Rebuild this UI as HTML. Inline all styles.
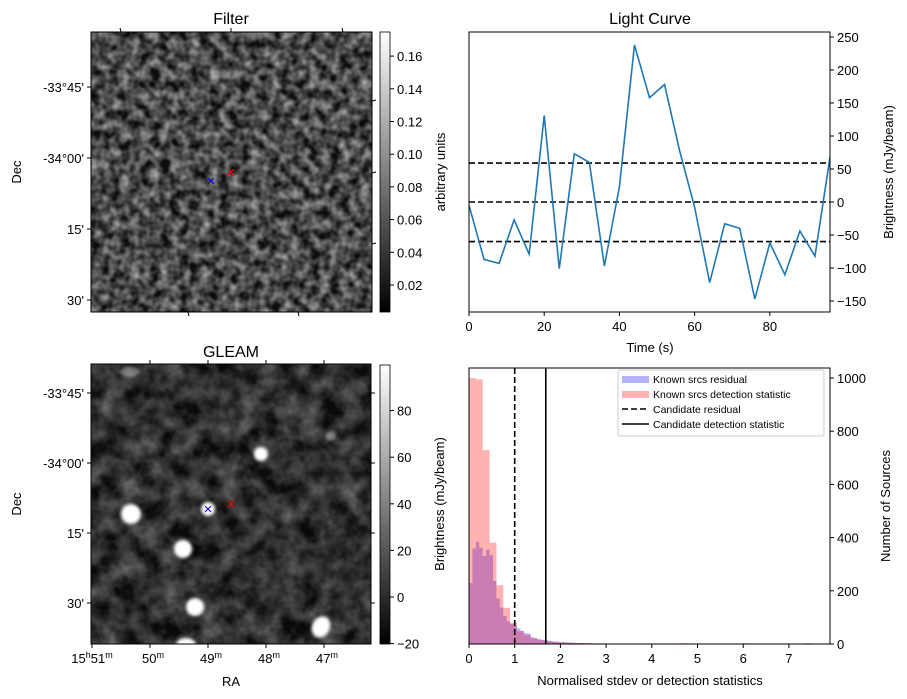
<!DOCTYPE html>
<html><head><meta charset="utf-8"><style>
body{margin:0;background:#fff;}
svg{display:block;font-family:"Liberation Sans","DejaVu Sans",sans-serif;}
</style></head><body>
<svg id="fig" width="907" height="699" viewBox="0 0 907 699" xmlns="http://www.w3.org/2000/svg">
<defs>
<filter id="noiseF" x="0" y="0" width="100%" height="100%" color-interpolation-filters="sRGB">
<feTurbulence type="fractalNoise" baseFrequency="0.1" numOctaves="2" seed="3"/>
<feColorMatrix type="matrix" values="0 0 0 0 0  0 0 0 0 0  0 0 0 0 0  1.6 0 0 0 -0.4"/>
<feColorMatrix type="matrix" values="0 0 0 0.6 0.05  0 0 0 0.6 0.05  0 0 0 0.6 0.05  0 0 0 0 1"/>
</filter>
<filter id="noiseG" x="0" y="0" width="100%" height="100%" color-interpolation-filters="sRGB">
<feTurbulence type="fractalNoise" baseFrequency="0.05" numOctaves="3" seed="7"/>
<feColorMatrix type="matrix" values="0 0 0 0 0  0 0 0 0 0  0 0 0 0 0  1.4 0 0 0 -0.35"/>
<feColorMatrix type="matrix" values="0 0 0 0.42 0.04  0 0 0 0.42 0.04  0 0 0 0.42 0.04  0 0 0 0 1"/>
</filter>
<filter id="blur"><feGaussianBlur stdDeviation="1.5"/></filter>
<linearGradient id="gray" x1="0" y1="1" x2="0" y2="0"><stop offset="0" stop-color="#000"/><stop offset="1" stop-color="#fff"/></linearGradient>
<clipPath id="clipG"><rect x="91" y="364" width="280" height="280"/></clipPath>
<clipPath id="clipL"><rect x="469" y="32" width="361" height="280"/></clipPath>
<clipPath id="clipH"><rect x="469" y="368" width="361" height="276"/></clipPath>
</defs>

<g>
<rect x="91" y="32" width="281" height="280" filter="url(#noiseF)"/>
<rect x="91" y="32" width="281" height="280" fill="none" stroke="#000" stroke-width="1"/>
<text x="231" y="24" font-size="16" text-anchor="middle">Filter</text>
<g font-size="13" text-anchor="end">
<line x1="87" y1="87" x2="91" y2="87" stroke="#000"/><text x="84" y="92">-33°45'</text>
<line x1="87" y1="158" x2="91" y2="158" stroke="#000"/><text x="84" y="163">-34°00'</text>
<line x1="87" y1="229" x2="91" y2="229" stroke="#000"/><text x="84" y="234">15'</text>
<line x1="87" y1="300" x2="91" y2="300" stroke="#000"/><text x="84" y="305">30'</text>
</g>
<g stroke="#000">
<line x1="120" y1="28" x2="121" y2="32"/><line x1="231" y1="28" x2="231" y2="32"/><line x1="342" y1="28" x2="343" y2="32"/>
<line x1="188" y1="312" x2="189" y2="316"/><line x1="298" y1="312" x2="299" y2="316"/>
<line x1="372" y1="101" x2="376" y2="100"/><line x1="372" y1="173" x2="376" y2="172"/><line x1="372" y1="244" x2="376" y2="243"/>
</g>
<text transform="translate(21,172) rotate(-90)" font-size="13" text-anchor="middle">Dec</text>
<text x="211" y="186" font-size="15" fill="#00f" text-anchor="middle">×</text>
<text x="231" y="177" font-size="15" fill="#f00" text-anchor="middle">×</text>
<rect x="380" y="32" width="10" height="280" fill="url(#gray)" stroke="#000" stroke-width="0.8"/>
<g id="cbF" font-size="13"></g>
<text transform="translate(445,172) rotate(-90)" font-size="13" text-anchor="middle">arbitrary units</text>
</g>

<g>
<rect x="91" y="364" width="280" height="280" filter="url(#noiseG)"/>
<g clip-path="url(#clipG)" fill="#fff" filter="url(#blur)">
<ellipse cx="131" cy="514" rx="10" ry="10"/>
<ellipse cx="183" cy="549" rx="9" ry="9"/>
<ellipse cx="195" cy="607" rx="9" ry="9"/>
<ellipse cx="186" cy="645" rx="10" ry="7"/>
<ellipse cx="261" cy="454" rx="7" ry="7"/>
<ellipse cx="208" cy="509" rx="7" ry="7"/>
<ellipse cx="321" cy="627" rx="9" ry="11" transform="rotate(25 321 627)"/>
<ellipse cx="130" cy="372" rx="10" ry="5" opacity="0.4"/>
<ellipse cx="331" cy="436" rx="5" ry="5" opacity="0.4"/>
</g>
<rect x="91" y="364" width="280" height="280" fill="none" stroke="#000"/>
<text x="231" y="357" font-size="16" text-anchor="middle">GLEAM</text>
<g font-size="13" text-anchor="end">
<line x1="87" y1="393" x2="91" y2="393" stroke="#000"/><text x="84" y="398">-33°45'</text>
<line x1="87" y1="463" x2="91" y2="463" stroke="#000"/><text x="84" y="468">-34°00'</text>
<line x1="87" y1="533" x2="91" y2="533" stroke="#000"/><text x="84" y="538">15'</text>
<line x1="87" y1="603" x2="91" y2="603" stroke="#000"/><text x="84" y="608">30'</text>
</g>
<g stroke="#000">
<line x1="150" y1="360" x2="150" y2="364"/><line x1="208" y1="360" x2="208" y2="364"/><line x1="266" y1="360" x2="266" y2="364"/><line x1="324" y1="360" x2="324" y2="364"/>
<line x1="371" y1="393" x2="375" y2="393"/><line x1="371" y1="463" x2="375" y2="463"/><line x1="371" y1="533" x2="375" y2="533"/><line x1="371" y1="603" x2="375" y2="603"/>
<line x1="92" y1="644" x2="92" y2="648"/><line x1="150" y1="644" x2="150" y2="648"/><line x1="208" y1="644" x2="208" y2="648"/><line x1="266" y1="644" x2="266" y2="648"/><line x1="324" y1="644" x2="324" y2="648"/>
</g>
<g font-size="13" text-anchor="middle">
<text x="92" y="663">15<tspan font-size="9" dy="-5">h</tspan><tspan dy="5">51</tspan><tspan font-size="9" dy="-5">m</tspan></text>
<text x="153" y="663">50<tspan font-size="9" dy="-5">m</tspan></text>
<text x="211" y="663">49<tspan font-size="9" dy="-5">m</tspan></text>
<text x="269" y="663">48<tspan font-size="9" dy="-5">m</tspan></text>
<text x="327" y="663">47<tspan font-size="9" dy="-5">m</tspan></text>
</g>
<text x="231" y="686" font-size="13" text-anchor="middle">RA</text>
<text transform="translate(21,504) rotate(-90)" font-size="13" text-anchor="middle">Dec</text>
<text x="208" y="514" font-size="15" fill="#00f" text-anchor="middle">×</text>
<text x="231" y="509" font-size="15" fill="#f00" text-anchor="middle">×</text>
<rect x="380" y="365" width="10" height="279" fill="url(#gray)" stroke="#000" stroke-width="0.8"/>
<g id="cbG" font-size="13"></g>
<text transform="translate(444,504) rotate(-90)" font-size="13" text-anchor="middle">Brightness (mJy/beam)</text>
</g>

<g id="lc">
<text x="650" y="24" font-size="16" text-anchor="middle">Light Curve</text>
<text x="650" y="352" font-size="13" text-anchor="middle">Time (s)</text>
<text transform="translate(893,172) rotate(-90)" font-size="13" text-anchor="middle">Brightness (mJy/beam)</text>
</g>

<g id="hist">
<text x="650" y="685" font-size="13" text-anchor="middle">Normalised stdev or detection statistics</text>
<text transform="translate(890,506) rotate(-90)" font-size="13" text-anchor="middle">Number of Sources</text>
</g>
</svg>
<script>
const lcTimes = [0,4,8,12,16,20,24,28,32,36,40,44,48,52,56,60,64,68,72,76,80,84,88,92,96];
const lcValues = [-5,-87,-93,-27,-79,131,-101,73,60,-97,23,238,158,178,78,-8,-122,-33,-40,-147,-62,-110,-44,-82,68];
const lcThresholds = [59,0,-60];
const lcXTicks = [0,20,40,60,80];
const lcYTicks = [-150,-100,-50,0,50,100,150,200,250];
const resBinWidth = 0.075;
const resCounts = [229,359,384,362,331,354,334,237,171,137,106,85,75,69,59,50,41,39,25,21,19,16,15,12,10,9,8,7,6,5,5,4,4,3,3,3,2,2,2,2,1,1,1,2,1,1,1,1,1];
const detBinWidth = 0.15;
const detCounts = [1000,995,729,381,221,136,80,48,33,22,15,11,8,6,5,4,4,3,2,2,2,1,1,1,1,1,1,0,0,0,0,3,0,0,0,0,0,0,0,0,3,0,0,0,0,0,0,0,0,3];
const candResidual = 1.0;
const candDetection = 1.68;
const histXTicks = [0,1,2,3,4,5,6,7];
const histYTicks = [0,200,400,600,800,1000];
const cbFTicks = [0.02,0.04,0.06,0.08,0.10,0.12,0.14,0.16];
const cbGTicks = [-20,0,20,40,60,80];

const NS='http://www.w3.org/2000/svg';
function mk(tag,attrs,parent){const e=document.createElementNS(NS,tag);for(const k in attrs)e.setAttribute(k,attrs[k]);parent.appendChild(e);return e;}

const cbF=document.getElementById('cbF');
const cfy=v=>285-(v-0.02)/0.02*32.7;
cbFTicks.forEach(v=>{
  const l=mk('line',{x1:390,x2:394,y1:cfy(v),y2:cfy(v),stroke:'#000'},cbF);
  
  
  const t=mk('text',{x:397,y:cfy(v)+5},cbF);t.textContent=v.toFixed(2);
  
  
});
const cbG=document.getElementById('cbG');
const cgy=v=>597-v*2.33;
cbGTicks.forEach(v=>{
  const l=mk('line',{x1:390,x2:394,y1:cgy(v),y2:cgy(v),stroke:'#000'},cbG);
  
  
  const t=mk('text',{x:397,y:cgy(v)+5},cbG);t.textContent=(v<0?'\u2212'+(-v):v);
  
  
});

const lc=document.getElementById('lc');
const lx=t=>469+t*(361/96);
const ly=v=>202-v*0.66;
const lcg=mk('g',{'clip-path':'url(#clipL)'},lc);
lcThresholds.forEach(v=>{
  const l=mk('line',{x1:469,x2:830,y1:ly(v),y2:ly(v),stroke:'#000','stroke-width':1.6,'stroke-dasharray':'6,3'},lcg);
  
  
});
const pl=mk('polyline',{points:lcTimes.map((t,i)=>lx(t)+','+ly(lcValues[i])).join(' '),fill:'none',stroke:'#1f77b4','stroke-width':1.6},lcg);


const lf=mk('rect',{x:469,y:32,width:361,height:280,fill:'none',stroke:'#000'},lc);


lcXTicks.forEach(v=>{
  mk('line',{x1:lx(v),x2:lx(v),y1:312,y2:316,stroke:'#000'},lc);
  const t=mk('text',{x:lx(v),y:331,'font-size':13,'text-anchor':'middle'},lc);t.textContent=v;
  
  
});
lcYTicks.forEach(v=>{
  mk('line',{x1:830,x2:834,y1:ly(v),y2:ly(v),stroke:'#000'},lc);
  const t=mk('text',{x:837,y:ly(v)+5,'font-size':13},lc);t.textContent=(v<0?'\u2212'+(-v):v);
  
  
});

const h=document.getElementById('hist');
const hx=v=>469+v*45.7;
const hy=c=>644-c*0.266;
const hg=mk('g',{'clip-path':'url(#clipH)'},h);
resCounts.forEach((c,i)=>{
  if(!c)return;
  const r=mk('rect',{x:hx(i*resBinWidth),y:hy(c),width:hx(resBinWidth)-469,height:644-hy(c),fill:'#0000ff','fill-opacity':0.3},hg);
  
  
});
detCounts.forEach((c,i)=>{
  if(!c)return;
  const r=mk('rect',{x:hx(i*detBinWidth),y:hy(c),width:hx(detBinWidth)-469,height:644-hy(c),fill:'#ff0000','fill-opacity':0.3},hg);
  
  
});
const v1=mk('line',{x1:hx(candResidual),x2:hx(candResidual),y1:368,y2:644,stroke:'#000','stroke-width':1.6,'stroke-dasharray':'6,3'},hg);


const v2=mk('line',{x1:hx(candDetection),x2:hx(candDetection),y1:368,y2:644,stroke:'#000','stroke-width':1.6},hg);


const hf=mk('rect',{x:469,y:368,width:361,height:276,fill:'none',stroke:'#000'},h);


histXTicks.forEach(v=>{
  mk('line',{x1:hx(v),x2:hx(v),y1:644,y2:648,stroke:'#000'},h);
  const t=mk('text',{x:hx(v),y:663,'font-size':13,'text-anchor':'middle'},h);t.textContent=v;
  
  
});
histYTicks.forEach(v=>{
  mk('line',{x1:830,x2:834,y1:hy(v),y2:hy(v),stroke:'#000'},h);
  const t=mk('text',{x:837,y:hy(v)+5,'font-size':13},h);t.textContent=v;
  
  
});
const lg=mk('g',{'font-size':10.5},h);


mk('rect',{x:618,y:370,width:206,height:66,fill:'#fff','fill-opacity':0.8,stroke:'#ccc',rx:2},lg);
const items=[['Known srcs residual','blue'],['Known srcs detection statistic','red'],['Candidate residual','dash'],['Candidate detection statistic','solid']];
items.forEach((it,i)=>{
  const y=379+i*15;
  if(it[1]==='blue')mk('rect',{x:622,y:y-3,width:27,height:7,fill:'#0000ff','fill-opacity':0.3},lg);
  else if(it[1]==='red')mk('rect',{x:622,y:y-3,width:27,height:7,fill:'#ff0000','fill-opacity':0.3},lg);
  else mk('line',{x1:622,x2:649,y1:y,y2:y,stroke:'#000','stroke-width':1.6,'stroke-dasharray':it[1]==='dash'?'6,3':'none'},lg);
  const t=mk('text',{x:653,y:y+4},lg);t.textContent=it[0];
  
  
});
</script>
</body></html>
